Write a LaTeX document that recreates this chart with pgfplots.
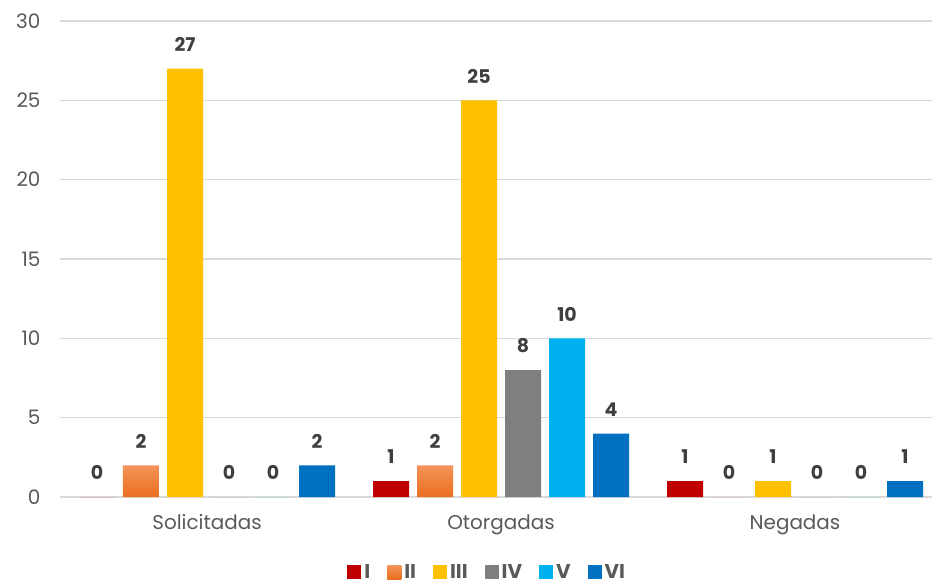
\documentclass[border=0pt]{standalone}
\usepackage{pgfplots}
\pgfplotsset{compat=1.18}
\usetikzlibrary{calc}
\usepackage{fontspec}
\setmainfont{Poppins}
\definecolor{cI}{HTML}{C00000}
\definecolor{cIIa}{HTML}{F4945A}
\definecolor{cIIb}{HTML}{EB6E1F}
\definecolor{cIII}{HTML}{FFC000}
\definecolor{cIV}{HTML}{7F7F7F}
\definecolor{cV}{HTML}{00B0F0}
\definecolor{cVI}{HTML}{0070C0}
\definecolor{gridc}{HTML}{D9D9D9}
\definecolor{tickc}{HTML}{595959}
\definecolor{labc}{HTML}{404040}
\begin{document}
\begin{tikzpicture}
\begin{axis}[
  name=ax,
  at={(0,0)}, anchor=south west,
  scale only axis,
  width=882bp, height=476bp,
  ybar=8bp, bar width=36bp,
  xmin=-0.5, xmax=2.5,
  ymin=0, ymax=30,
  ytick={0,5,...,30},
  xtick={0,1,2},
  xticklabels={Solicitadas,Otorgadas,Negadas},
  axis line style={draw=none},
  major tick length=0pt,
  ymajorgrids=true, xmajorgrids=false,
  major grid style={draw=gridc, line width=1.5bp},
  tick label style={font=\fontsize{20}{24}\selectfont, text=tickc},
  yticklabel style={xshift=-16bp},
  xticklabel style={yshift=-14bp},
  /pgf/number format/assume math mode=true,
  nodes near coords,
  every node near coord/.append style={anchor=south, inner sep=0pt, yshift=17bp,
     font=\fontsize{19}{22}\selectfont\bfseries, text=labc},
  legend columns=-1,
  legend style={at={(0.485,-0.158)}, anchor=center, draw=none,
     font=\fontsize{20}{24}\selectfont\bfseries, text=tickc,
     /tikz/every even column/.append style={column sep=14bp},
     nodes={inner sep=3bp}},
  legend image code/.code={\path[#1] (0bp,-7bp) rectangle (14bp,7bp);},
]
\addplot[fill=cI, draw=none] coordinates {(0,0) (1,1) (2,1)};
\addplot[top color=cIIa, bottom color=cIIb, draw=none] coordinates {(0,2) (1,2) (2,0)};
\addplot[fill=cIII, draw=none] coordinates {(0,27) (1,25) (2,1)};
\addplot[fill=cIV, draw=none] coordinates {(0,0) (1,8) (2,0)};
\addplot[fill=cV, draw=none] coordinates {(0,0) (1,10) (2,0)};
\addplot[fill=cVI, draw=none] coordinates {(0,2) (1,4) (2,1)};
\legend{I,II,III,IV,V,VI}
\end{axis}
\pgfresetboundingbox
\path[use as bounding box] ($(ax.south west)+(-60bp,-90bp)$) rectangle ($(ax.south west)+(872bp,497bp)$);
\end{tikzpicture}
\end{document}
